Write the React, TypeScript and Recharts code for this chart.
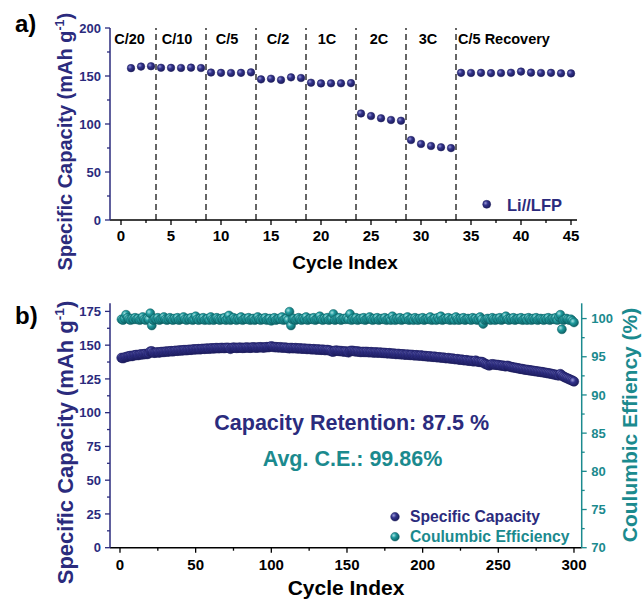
import React from 'react';
import { ScatterChart, Scatter, XAxis, YAxis, ReferenceLine } from 'recharts';

const FONT = '"Liberation Sans", Arial, Helvetica, sans-serif';
const NAVY = '#2b2b7d';
const TEAL = '#1b8a8e';
const BLACK = '#000';

// ---- panel a: rate capability (Li//LFP), cycles 1-45 ----
const rateCapacity = [
  158.2, 159.8, 160.2,
  158.6, 158.5, 158.4, 158.7, 158.3,
  153.6, 153.3, 153.2, 153.3, 153.8,
  146.5, 147.2, 145.9, 148.6, 147.9,
  143.0, 142.3, 142.4, 142.4, 142.6,
  111.0, 108.3, 106.0, 104.2, 103.4,
  83.3, 79.2, 77.1, 75.8, 74.9,
  153.3, 153.2, 153.3, 153.0, 153.1, 153.4, 154.6, 153.5, 153.2, 153.3, 152.8, 152.7,
];
const rateBoundaries = [3.5, 8.5, 13.5, 18.5, 23.5, 28.5, 33.5];
const rateNames = ['C/20', 'C/10', 'C/5', 'C/2', '1C', '2C', '3C', 'C/5 Recovery'];
const rateNameX = [0.85, 5.6, 10.6, 15.7, 20.6, 25.8, 30.7, 38.3];
const rateXTicks = [0, 2.5, 5, 7.5, 10, 12.5, 15, 17.5, 20, 22.5, 25, 27.5, 30, 32.5, 35, 37.5, 40, 42.5, 45];
const rateYTicks = [0, 25, 50, 75, 100, 125, 150, 175, 200];

// ---- panel b: long cycling, 300 cycles ----
const cycleCapacity = [
  140.6, 140.3, 140.9, 141.2, 141.5, 141.8, 142.1, 141.9, 142.3, 142.6,
  142.8, 142.6, 143.0, 143.2, 143.1, 143.4, 143.5, 143.4, 143.8, 145.3,
  145.5, 144.4, 144.3, 144.6, 144.7, 144.5, 144.9, 145.0, 144.9, 145.2,
  145.3, 145.2, 145.5, 145.6, 145.4, 145.7, 145.9, 145.8, 146.0, 146.1,
  146.0, 146.3, 146.4, 146.2, 146.5, 146.6, 146.5, 146.8, 146.9, 146.8,
  147.0, 147.1, 146.9, 147.2, 147.3, 147.2, 147.4, 147.5, 147.3, 147.6,
  147.7, 147.5, 147.8, 147.9, 147.7, 147.8, 148.0, 147.9, 147.8, 148.0,
  148.1, 147.9, 147.2, 148.0, 148.2, 148.1, 147.9, 148.0, 148.2, 148.1,
  147.9, 148.0, 148.2, 148.3, 148.1, 148.0, 148.2, 148.4, 148.3, 148.1,
  148.2, 148.4, 148.5, 148.3, 148.2, 148.4, 148.6, 148.5, 148.7, 149.2,
  148.8, 148.5, 148.6, 148.4, 148.3, 148.5, 148.2, 148.1, 148.3, 148.0,
  147.9, 147.6, 148.0, 147.8, 147.7, 147.9, 147.6, 147.5, 147.7, 147.4,
  147.3, 147.5, 147.2, 147.1, 147.3, 147.0, 146.9, 147.1, 146.8, 146.7,
  146.9, 146.6, 146.5, 146.7, 146.4, 146.3, 146.5, 146.2, 146.0, 145.3,
  145.1, 145.9, 146.0, 145.8, 145.6, 145.7, 145.4, 145.2, 145.4, 145.1,
  144.6, 145.6, 145.9, 145.7, 145.5, 145.3, 145.4, 145.1, 144.9, 145.0,
  145.0, 144.9, 145.1, 144.8, 144.7, 144.9, 144.6, 144.5, 144.7, 144.5,
  144.4, 144.6, 144.3, 144.2, 144.3, 144.0, 143.9, 144.1, 143.8, 143.7,
  143.8, 143.5, 143.4, 143.6, 143.3, 143.2, 143.3, 143.0, 142.9, 143.1,
  142.8, 142.7, 142.9, 142.5, 142.4, 142.6, 142.3, 142.2, 142.4, 142.1,
  141.9, 142.0, 141.7, 141.6, 141.8, 141.4, 141.3, 141.5, 141.1, 141.0,
  141.1, 140.8, 140.7, 140.8, 140.4, 140.3, 140.5, 140.1, 140.0, 140.1,
  139.7, 139.6, 139.7, 139.3, 139.2, 139.3, 138.9, 138.8, 138.9, 138.5,
  138.4, 138.5, 138.1, 138.0, 138.6, 137.9, 137.7, 137.5, 137.6, 137.2,
  136.3, 135.9, 135.4, 134.9, 135.6, 135.9, 135.7, 135.5, 135.4, 135.3,
  135.1, 134.8, 134.9, 134.5, 134.3, 134.8, 134.4, 134.0, 133.7, 133.5,
  133.3, 133.1, 132.9, 132.6, 132.4, 132.3, 132.0, 131.8, 131.7, 131.5,
  131.3, 131.2, 131.0, 130.8, 130.7, 130.5, 130.3, 130.2, 130.0, 129.8,
  129.6, 129.4, 129.2, 129.0, 128.8, 128.5, 128.3, 128.0, 127.8, 127.5,
  128.6, 127.7, 126.8, 126.2, 125.7, 125.2, 124.7, 124.2, 123.7, 123.1,
];
const cycleCE = [
  99.9, 99.8, 100.0, 100.5, 100.1, 99.9, 99.8, 100.0, 99.9, 100.1,
  99.9, 100.0, 99.8, 99.9, 100.2, 99.9, 99.8, 100.0, 99.9, 100.7,
  99.1, 99.8, 100.0, 99.9, 100.1, 99.8, 99.9, 100.0, 100.2, 99.9,
  99.8, 99.9, 100.1, 99.9, 99.8, 100.0, 99.9, 100.1, 99.8, 99.9,
  100.0, 100.2, 99.9, 99.8, 100.0, 99.9, 100.1, 99.8, 99.9, 100.3,
  99.9, 99.8, 100.0, 99.9, 100.1, 99.8, 99.9, 100.0, 99.8, 100.2,
  99.9, 99.8, 100.0, 100.1, 99.9, 99.8, 100.0, 99.9, 100.1, 99.8,
  100.0, 100.4, 99.8, 99.9, 100.1, 99.9, 99.8, 100.0, 99.9, 100.2,
  99.8, 99.9, 100.0, 99.9, 100.1, 99.8, 99.9, 100.0, 99.8, 99.9,
  100.2, 99.9, 99.8, 100.0, 99.9, 100.1, 99.8, 99.9, 100.0, 99.7,
  99.9, 100.1, 99.8, 99.9, 100.0, 99.9, 100.2, 99.8, 99.9, 100.0,
  99.8, 100.9, 99.1, 99.9, 100.0, 99.8, 99.9, 100.1, 99.9, 99.8,
  100.0, 99.9, 100.2, 99.8, 99.9, 100.0, 99.9, 100.1, 99.8, 99.9,
  100.0, 100.3, 99.9, 99.8, 100.0, 99.9, 100.1, 99.8, 99.9, 100.0,
  100.6, 99.8, 99.9, 100.0, 100.1, 99.8, 99.9, 100.0, 99.9, 100.1,
  99.9, 100.6, 99.8, 100.0, 99.9, 100.1, 99.8, 99.9, 100.0, 99.9,
  100.1, 99.8, 99.9, 100.0, 100.2, 99.9, 99.8, 100.0, 99.9, 100.1,
  99.8, 99.9, 100.0, 99.9, 100.1, 99.8, 99.9, 100.0, 99.8, 100.3,
  99.9, 99.8, 100.0, 99.9, 100.1, 99.8, 99.9, 100.0, 99.9, 100.2,
  99.8, 99.9, 100.0, 99.8, 100.1, 99.9, 99.8, 100.0, 99.9, 100.1,
  99.8, 99.9, 100.0, 99.9, 100.2, 99.8, 99.9, 100.0, 99.8, 100.1,
  99.9, 100.3, 99.8, 99.9, 100.0, 99.9, 100.1, 99.8, 99.9, 100.0,
  99.8, 100.2, 99.9, 99.8, 100.0, 99.9, 100.1, 99.8, 99.9, 100.0,
  99.9, 99.8, 100.1, 99.9, 100.0, 99.8, 99.9, 100.2, 99.9, 99.3,
  99.8, 99.9, 100.0, 99.9, 99.8, 100.1, 99.9, 99.8, 100.0, 99.9,
  100.1, 99.8, 99.9, 100.0, 100.3, 99.9, 99.8, 100.0, 99.9, 100.1,
  99.8, 99.9, 100.0, 99.9, 100.1, 99.8, 99.9, 100.0, 99.8, 100.1,
  99.9, 99.8, 100.0, 99.9, 100.1, 99.8, 99.9, 100.0, 99.9, 99.8,
  100.0, 99.9, 100.1, 99.8, 99.9, 100.0, 99.9, 100.1, 99.8, 100.2,
  100.5, 98.6, 99.8, 99.9, 100.0, 99.9, 99.8, 99.9, 99.7, 99.5,
];
const cycleXTicks = [0, 25, 50, 75, 100, 125, 150, 175, 200, 225, 250, 275, 300];
const capYTicks = [0, 12.5, 25, 37.5, 50, 62.5, 75, 87.5, 100, 112.5, 125, 137.5, 150, 162.5, 175];
const ceYTicks = [70, 72.5, 75, 77.5, 80, 82.5, 85, 87.5, 90, 92.5, 95, 97.5, 100];

const rateData = rateCapacity.map((v, i) => ({ cycle: i + 1, capacity: v }));
const rateLabelData = rateNames.map((name, i) => ({ cycle: rateNameX[i], capacity: 189, name }));
const capData = cycleCapacity.map((v, i) => ({ cycle: i + 1, capacity: v }));
const ceData = cycleCE.map((v, i) => ({ cycle: i + 1, ce: v }));

const isMajor = (v: number, step: number) => Math.abs(v / step - Math.round(v / step)) < 1e-6;

// tick marks drawn by hand so major/minor lengths differ
const makeTick = (side: 'bottom' | 'left' | 'right', step: number, color: string, fontSize: number, gap: number) =>
  (props: any) => {
    const { x, y, payload } = props;
    const v = payload.value;
    const major = isMajor(v, step);
    const len = major ? 5 : 3;
    const txt = { fill: color, fontSize, fontWeight: 700, fontFamily: FONT };
    if (side === 'bottom') {
      return (
        <g>
          <line x1={x} y1={y} x2={x} y2={y + len} stroke={color} strokeWidth={1.3} />
          {major && <text x={x} y={y + gap} textAnchor="middle" {...txt}>{v}</text>}
        </g>
      );
    }
    const dir = side === 'left' ? -1 : 1;
    return (
      <g>
        <line x1={x} y1={y} x2={x + dir * len} y2={y} stroke={color} strokeWidth={1.3} />
        {major && (
          <text x={x + dir * gap} y={y} dy="0.36em" textAnchor={side === 'left' ? 'end' : 'start'} {...txt}>{v}</text>
        )}
      </g>
    );
  };

const sphere = (fillId: string, stroke: string, r: number) => (p: any) => (
  <circle cx={p.cx} cy={p.cy} r={r} fill={`url(#${fillId})`} stroke={stroke} strokeWidth={0.5} />
);

const capacityTitle = (x: number, y: number, size: number) => () => (
  <text x={x} y={y} transform={`rotate(-90, ${x}, ${y})`} textAnchor="middle" fill={NAVY} fontSize={size} fontWeight={700} fontFamily={FONT}>
    Specific Capacity (mAh g
    <tspan fontSize={size * 0.62} dy={-size * 0.42}>-1</tspan>
    <tspan dy={size * 0.42}>)</tspan>
  </text>
);

const cycleTitle = (x: number, y: number, size: number) => () => (
  <text x={x} y={y} textAnchor="middle" fill={BLACK} fontSize={size} fontWeight={700} fontFamily={FONT}>Cycle Index</text>
);

function RatePanel() {
  return (
    <ScatterChart width={643} height={290} margin={{ top: 28, right: 66, bottom: 0, left: 0 }}>
      <XAxis
        dataKey="cycle" type="number" domain={[-1.1, 45.6]} allowDataOverflow ticks={rateXTicks} interval={0}
        tickSize={0} tickMargin={0} tickLine={false} height={70}
        axisLine={{ stroke: BLACK, strokeWidth: 1.5 }}
        tick={makeTick('bottom', 5, BLACK, 15, 20.7)}
        label={cycleTitle(345, 269.3, 19)}
      />
      <XAxis xAxisId="frame" orientation="top" type="number" domain={[-1.1, 45.6]} height={0} tick={false} tickLine={false} axisLine={{ stroke: BLACK, strokeWidth: 1.5 }} />
      <YAxis
        dataKey="capacity" type="number" domain={[0, 200]} allowDataOverflow ticks={rateYTicks} interval={0}
        tickSize={0} tickMargin={0} tickLine={false} width={110}
        axisLine={{ stroke: NAVY, strokeWidth: 1.5 }}
        tick={makeTick('left', 50, NAVY, 13, 9)}
        label={capacityTitle(72, 141.7, 20)}
      />
      <YAxis yAxisId="frame" orientation="right" type="number" domain={[0, 1]} width={0} tick={false} tickLine={false} axisLine={{ stroke: BLACK, strokeWidth: 1.5 }} />
      {rateBoundaries.map((b) => (
        <ReferenceLine key={b} x={b} stroke={BLACK} strokeWidth={1.2} strokeDasharray="6 4" />
      ))}
      <Scatter
        data={rateLabelData} isAnimationActive={false}
        shape={(p: any) => (
          <text x={p.cx} y={p.cy} dy="0.36em" textAnchor="middle" fill={BLACK} fontSize={14.5} fontWeight={700} fontFamily={FONT}>{p.payload.name}</text>
        )}
      />
      <Scatter name="Li//LFP" data={rateData} isAnimationActive={false} shape={sphere('sphNavy', '#1c1c5c', 3.8)} />
      <g>
        <circle cx={486.7} cy={204.3} r={4} fill="url(#sphNavy)" stroke="#1c1c5c" strokeWidth={0.5} />
        <text x={507} y={210.7} fill={NAVY} fontSize={16.5} fontWeight={700} fontFamily={FONT}>Li//LFP</text>
        <text x={15} y={31.5} fill={BLACK} fontSize={24} fontWeight={700} fontFamily={FONT}>a)</text>
      </g>
    </ScatterChart>
  );
}

function CyclePanel() {
  return (
    <ScatterChart width={643} height={309} margin={{ top: 13.3, right: 0, bottom: 0, left: 0 }}>
      <XAxis
        dataKey="cycle" type="number" domain={[-6.6, 305.1]} allowDataOverflow ticks={cycleXTicks} interval={0}
        tickSize={0} tickMargin={0} tickLine={false} height={51.3}
        axisLine={{ stroke: BLACK, strokeWidth: 1.5 }}
        tick={makeTick('bottom', 50, BLACK, 15, 22.7)}
        label={cycleTitle(346, 305, 21)}
      />
      <XAxis xAxisId="frame" orientation="top" type="number" domain={[-6.6, 305.1]} height={0} tick={false} tickLine={false} axisLine={{ stroke: BLACK, strokeWidth: 1.5 }} />
      <YAxis
        yAxisId="cap" dataKey="capacity" type="number" domain={[0, 181]} allowDataOverflow ticks={capYTicks} interval={0}
        tickSize={0} tickMargin={0} tickLine={false} width={110}
        axisLine={{ stroke: NAVY, strokeWidth: 1.5 }}
        tick={makeTick('left', 25, NAVY, 13, 9)}
        label={capacityTitle(73, 152.5, 22)}
      />
      <YAxis
        yAxisId="ce" orientation="right" dataKey="ce" type="number" domain={[70, 102]} allowDataOverflow ticks={ceYTicks} interval={0}
        tickSize={0} tickMargin={0} tickLine={false} width={61.3}
        axisLine={{ stroke: TEAL, strokeWidth: 1.5 }}
        tick={makeTick('right', 5, TEAL, 13, 9.5)}
        label={() => (
          <text x={637} y={135} transform="rotate(-90, 637, 135)" textAnchor="middle" fill={TEAL} fontSize={21} fontWeight={700} fontFamily={FONT}>
            Coulumbic Effiency (%)
          </text>
        )}
      />
      <Scatter name="Coulumbic Efficiency" yAxisId="ce" data={ceData} isAnimationActive={false} shape={sphere('sphTeal', '#0d5f62', 4.5)} />
      <Scatter name="Specific Capacity" yAxisId="cap" data={capData} isAnimationActive={false} shape={sphere('sphNavy', '#1c1c5c', 4.8)} />
      <g fontFamily={FONT} fontWeight={700}>
        <text x={351.7} y={140} textAnchor="middle" fill={NAVY} fontSize={21.5}>Capacity Retention: 87.5 %</text>
        <text x={352.5} y={176} textAnchor="middle" fill={TEAL} fontSize={21.5}>Avg. C.E.: 99.86%</text>
        <circle cx={395} cy={226.7} r={4.3} fill="url(#sphNavy)" stroke="#1c1c5c" strokeWidth={0.5} />
        <text x={410} y={231.5} fill={NAVY} fontSize={15.7}>Specific Capacity</text>
        <circle cx={395} cy={246.7} r={4.3} fill="url(#sphTeal)" stroke="#0d5f62" strokeWidth={0.5} />
        <text x={410} y={251.5} fill={TEAL} fontSize={15.7}>Coulumbic Efficiency</text>
        <text x={15} y={34} fill={BLACK} fontSize={24}>b)</text>
      </g>
    </ScatterChart>
  );
}

export default function App() {
  return (
    <div style={{ position: 'fixed', left: 0, top: 0, width: 643, height: 599, background: '#fff' }}>
      <svg width={0} height={0} style={{ position: 'absolute' }}>
        <defs>
          <radialGradient id="sphNavy" cx="0.35" cy="0.35" r="0.7">
            <stop offset="0" stopColor="#9a9ad8" />
            <stop offset="0.4" stopColor="#33338c" />
            <stop offset="1" stopColor="#1a1a58" />
          </radialGradient>
          <radialGradient id="sphTeal" cx="0.35" cy="0.35" r="0.7">
            <stop offset="0" stopColor="#a8e4e4" />
            <stop offset="0.4" stopColor="#1f9a9d" />
            <stop offset="1" stopColor="#0c5e61" />
          </radialGradient>
        </defs>
      </svg>
      <div style={{ position: 'absolute', left: 0, top: 0 }}>
        <RatePanel />
      </div>
      <div style={{ position: 'absolute', left: 0, top: 290 }}>
        <CyclePanel />
      </div>
    </div>
  );
}
